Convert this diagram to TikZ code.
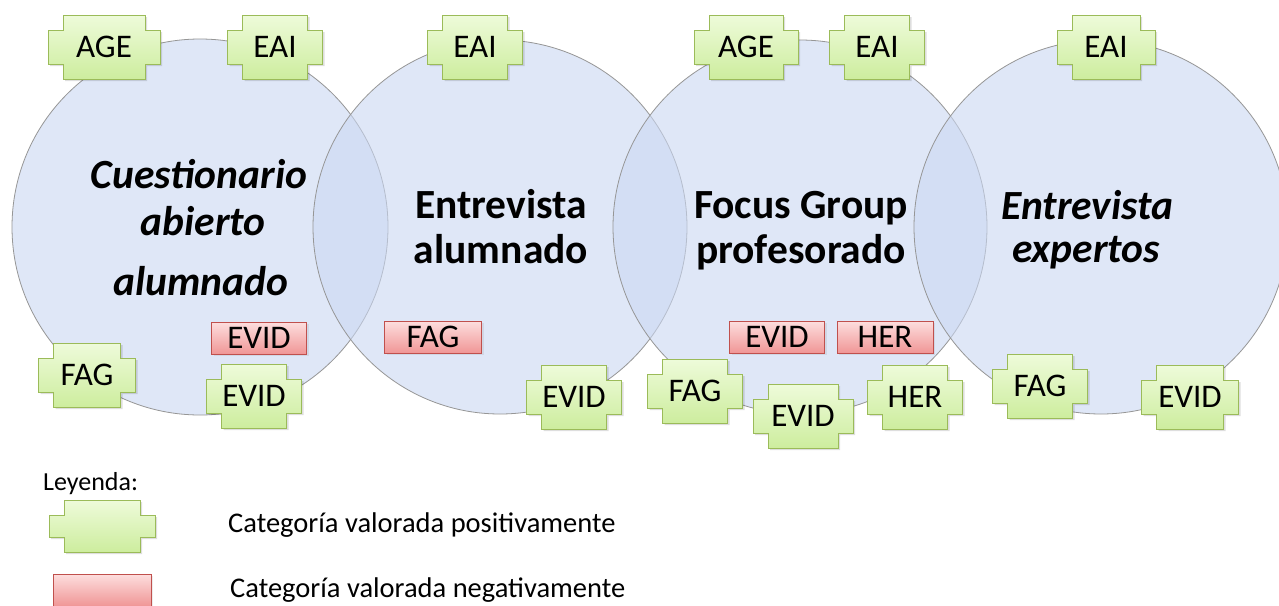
\documentclass[tikz,border=0pt]{standalone}
\usepackage{fontspec}
\setmainfont{Carlito}
\usetikzlibrary{calc,shadows}
\definecolor{circfill}{RGB}{203,216,242}
\definecolor{circline}{RGB}{150,150,150}
\definecolor{gtop}{RGB}{238,251,218}
\definecolor{gbot}{RGB}{205,237,158}
\definecolor{gline}{RGB}{155,187,89}
\definecolor{rtop}{RGB}{253,222,222}
\definecolor{rbot}{RGB}{240,150,150}
\definecolor{rline}{RGB}{192,80,77}
\newcommand\labfont{\fontsize{33}{37}\selectfont}
\newcommand\bigfont{\fontsize{41.5}{47}\selectfont\bfseries}
\newcommand\legfont{\fontsize{28.5}{33}\selectfont}
\newcommand\crossdraw[1]{%
  \path[#1] (-\gbhw+15,-\gbhh) -- (\gbhw-15,-\gbhh) -- (\gbhw-15,-\gbhh+15) -- (\gbhw,-\gbhh+15)
   -- (\gbhw,\gbhh-15) -- (\gbhw-15,\gbhh-15) -- (\gbhw-15,\gbhh) -- (-\gbhw+15,\gbhh)
   -- (-\gbhw+15,\gbhh-15) -- (-\gbhw,\gbhh-15) -- (-\gbhw,-\gbhh+15) -- (-\gbhw+15,-\gbhh+15) -- cycle;}
% name, centre, width, height, text
\newcommand\gbox[5]{%
  \begin{scope}[shift={(#2)}]
    \pgfmathsetmacro\gbhw{#3/2}\pgfmathsetmacro\gbhh{#4/2}
    \crossdraw{fill=black,opacity=0.13,shift={(2,2)}}
    \crossdraw{top color=gtop,bottom color=gbot,draw=gline,line width=1pt}
  \end{scope}
  \node[lab] (#1) at (#2) {#5};}
\begin{document}
\begin{tikzpicture}[x=1pt,y=-1pt,
  lab/.style={inner sep=0pt,font=\labfont,text=black},
  redbox/.style={draw=rline,line width=1pt,top color=rtop,bottom color=rbot,
    minimum height=32pt,inner sep=0pt,font=\labfont,
    drop shadow={opacity=0.15,shadow xshift=2pt,shadow yshift=-2pt}},
  circ/.style={draw=circline,line width=0.8pt,fill=circfill,fill opacity=0.6},
  big/.style={anchor=base,inner sep=0pt,font=\bigfont},
  bigi/.style={anchor=base,inner sep=0pt,font=\bigfont\itshape},
  leg/.style={anchor=west,inner sep=0pt,font=\legfont}]
\clip (0,0) rectangle (1279,605);
\useasboundingbox (0,0) rectangle (1279,605);
\fill[white] (0,0) rectangle (1279,605);
% circles
\path[circ] (200,227) circle[radius=188];
\path[circ] (500,227) circle[radius=187];
\path[circ] (800,227) circle[radius=187];
\path[circ] (1101,227) circle[radius=187];
% circle titles
\node[bigi] (t1a) at (199,188) {Cuestionario};
\node[bigi] (t1b) at (203,235) {abierto};
\node[bigi] (t1c) at (201,295) {alumnado};
\node[big] (t2a) at (501,218) {Entrevista};
\node[big] (t2b) at (501,263) {alumnado};
\node[big] (t3a) at (801,218) {Focus Group};
\node[big] (t3b) at (801,263) {profesorado};
\node[bigi] (t4a) at (1087,219) {Entrevista};
\node[bigi] (t4b) at (1086,262) {expertos};
% circle 1
\gbox{c1age}{104,47}{112}{64}{AGE}
\gbox{c1eai}{275,47}{95}{64}{EAI}
\node[redbox,minimum width=95pt] (c1evidn) at (259,338) {EVID};
\gbox{c1fag}{87,375}{97}{64}{FAG}
\gbox{c1evid}{254,396}{95}{64}{EVID}
% circle 2
\gbox{c2eai}{475,47}{95}{64}{EAI}
\node[redbox,minimum width=97pt] (c2fagn) at (433,337) {FAG};
\gbox{c2evid}{574,397}{95}{64}{EVID}
% circle 3
\gbox{c3age}{746,47}{104}{64}{AGE}
\gbox{c3eai}{877,47}{95}{64}{EAI}
\node[redbox,minimum width=95pt] (c3evidn) at (777,337) {EVID};
\node[redbox,minimum width=96pt] (c3hern) at (885,337) {HER};
\gbox{c3fag}{695,391}{95}{64}{FAG}
\gbox{c3evid}{803,416}{100}{64}{EVID}
\gbox{c3her}{915,397}{95}{64}{HER}
% circle 4
\gbox{c4eai}{1106,47}{98}{64}{EAI}
\gbox{c4fag}{1040,386}{95}{64}{FAG}
\gbox{c4evid}{1190,397}{97}{64}{EVID}
% legend
\node[leg,font=\fontsize{26}{30}\selectfont] (leyenda) at (43,484) {Leyenda:};
\gbox{legpos}{102,526}{106}{52}{}
\node[leg] (legpostext) at (228,525) {Categoría valorada positivamente};
\node[redbox,minimum width=98pt] (legneg) at (102,590) {};
\node[leg] (legnegtext) at (230,590) {Categoría valorada negativamente};
\end{tikzpicture}
\end{document}
